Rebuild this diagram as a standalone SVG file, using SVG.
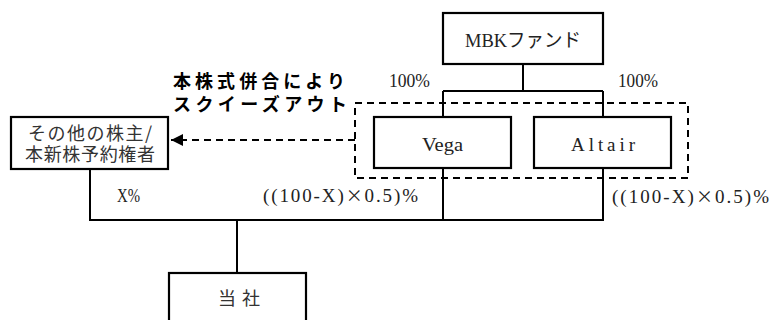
<svg xmlns="http://www.w3.org/2000/svg" width="772" height="320" viewBox="0 0 772 320">
<style>
.box{fill:#fff;stroke:#000;stroke-width:2.2}
.ln{stroke:#000;stroke-width:2;fill:none}
.dash{stroke:#000;stroke-width:2;fill:none;stroke-dasharray:7 5}
.t{font-family:"Liberation Serif","Noto Sans CJK JP",serif;font-size:19px;fill:#222}
.x{font-family:"Noto Sans CJK JP",sans-serif;font-size:17px}
.j{font-family:"Noto Sans CJK JP","Liberation Sans",sans-serif;font-size:18px;fill:#333}
.b{font-family:"Noto Sans CJK JP","Liberation Sans",sans-serif;font-size:18px;font-weight:bold;fill:#000}
</style>
<defs>
<marker id="ah" markerUnits="userSpaceOnUse" markerWidth="13" markerHeight="12" refX="12" refY="6" orient="auto">
<path d="M0,0 L12,6 L0,12 Z" fill="#000"/>
</marker>
</defs>
<rect width="772" height="320" fill="#fff"/>
<g id="connectors">
<line class="ln" x1="523" y1="64" x2="523" y2="91"/>
<line class="ln" x1="443" y1="91" x2="603" y2="91"/>
<line class="ln" x1="443" y1="91" x2="443" y2="117"/>
<line class="ln" x1="603" y1="91" x2="603" y2="117"/>
<line class="ln" x1="443" y1="168" x2="443" y2="220"/>
<line class="ln" x1="603" y1="168" x2="603" y2="220"/>
<line class="ln" x1="90" y1="169" x2="90" y2="220"/>
<line class="ln" x1="89" y1="220" x2="604" y2="220"/>
<line class="ln" x1="237" y1="220" x2="237" y2="273"/>
<line class="dash" x1="355" y1="140" x2="171" y2="140" marker-end="url(#ah)"/>
</g>
<g id="squeeze-group">
<rect class="dash" x="355" y="103" width="333" height="75"/>
<text class="b" x="173" y="88" textLength="172" lengthAdjust="spacing">本株式併合により</text>
<text class="b" x="173" y="111" textLength="174" lengthAdjust="spacing">スクイーズアウト</text>
</g>
<g id="mbk">
<rect class="box" x="443" y="13" width="160" height="51"/>
<text class="t" x="523" y="47" text-anchor="middle" textLength="116" lengthAdjust="spacingAndGlyphs">MBKファンド</text>
</g>
<g id="vega">
<rect class="box" x="374" y="117" width="137" height="51"/>
<text class="t" x="422" y="151" font-size="20" textLength="41" lengthAdjust="spacingAndGlyphs">Vega</text>
</g>
<g id="altair">
<rect class="box" x="534" y="117" width="137" height="51"/>
<text class="t" x="571" y="151" font-size="20" textLength="64" lengthAdjust="spacing">Altair</text>
</g>
<g id="others">
<rect class="box" x="11" y="117" width="157" height="52"/>
<text class="j" x="90" y="140" text-anchor="middle" textLength="124" lengthAdjust="spacing">その他の株主/</text>
<text class="j" x="90" y="161" text-anchor="middle" textLength="130" lengthAdjust="spacing">本新株予約権者</text>
</g>
<g id="company">
<rect class="box" x="169" y="273" width="137" height="60"/>
<text class="j" x="239" y="305" text-anchor="middle" font-size="19" textLength="42" lengthAdjust="spacing">当社</text>
</g>
<g id="labels">
<text class="t" x="389" y="87" textLength="41" lengthAdjust="spacingAndGlyphs">100%</text>
<text class="t" x="618" y="87" textLength="40" lengthAdjust="spacingAndGlyphs">100%</text>
<text class="t" x="117" y="202" textLength="23" lengthAdjust="spacingAndGlyphs">X%</text>
<text class="t" x="263" y="202" textLength="155" lengthAdjust="spacing">((100-X)<tspan class="x">×</tspan>0.5)%</text>
<text class="t" x="612" y="203" textLength="157" lengthAdjust="spacing">((100-X)<tspan class="x">×</tspan>0.5)%</text>
</g>
</svg>
